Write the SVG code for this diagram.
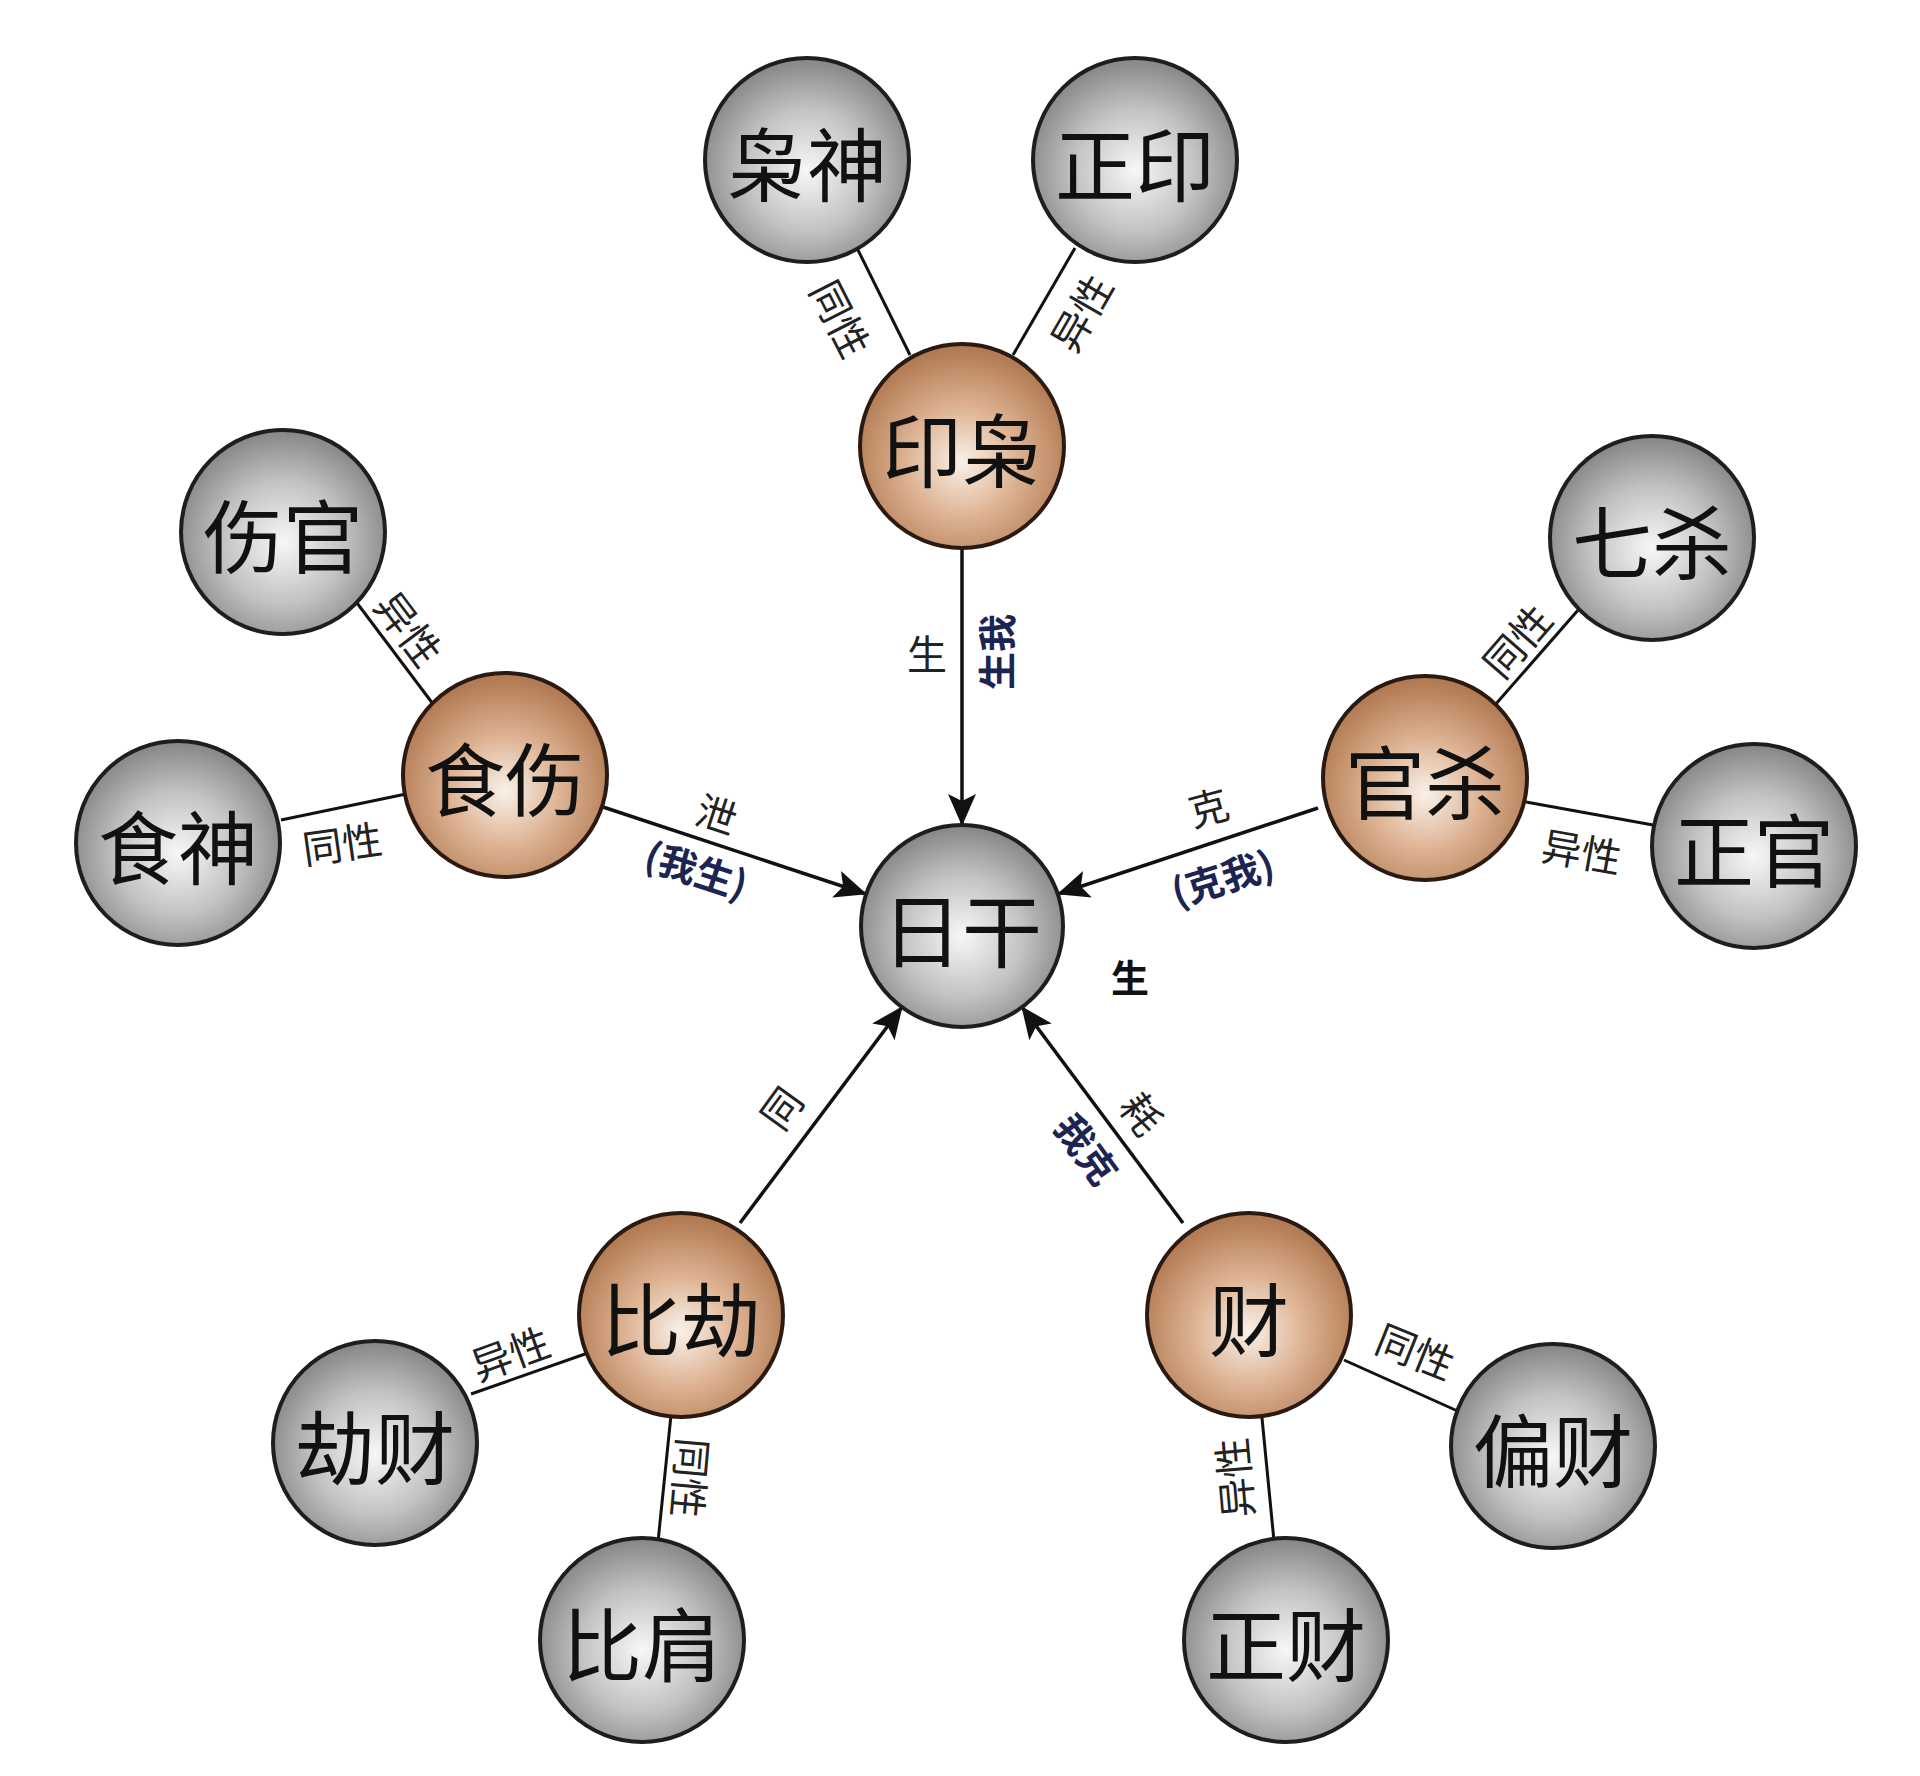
<svg xmlns="http://www.w3.org/2000/svg" width="1920" height="1776" viewBox="0 0 1920 1776">
<defs>
<radialGradient id="gGrey" cx="50%" cy="55%" r="55%">
<stop offset="0" stop-color="#f7f7f7"/>
<stop offset="0.55" stop-color="#c2c2c2"/>
<stop offset="1" stop-color="#858585"/>
</radialGradient>
<radialGradient id="gOrange" cx="50%" cy="58%" r="55%">
<stop offset="0" stop-color="#f9f1e8"/>
<stop offset="0.5" stop-color="#ddb292"/>
<stop offset="1" stop-color="#b27b53"/>
</radialGradient>
<marker id="arr" viewBox="0 0 32 30" refX="31" refY="15" markerWidth="32" markerHeight="30" markerUnits="userSpaceOnUse" orient="auto">
<path d="M0,1 L32,15 L0,29 L7,15 Z" fill="#111"/>
</marker>
</defs>
<style>
.grey{fill:url(#gGrey);stroke:#1e1e1e;stroke-width:4}
.orange{fill:url(#gOrange);stroke:#2a1a12;stroke-width:4}
.nt{font-family:"Noto Sans CJK SC","Noto Sans",sans-serif;font-size:80px;fill:#111;text-anchor:middle;dominant-baseline:central}
.link{stroke:#111;stroke-width:3;fill:none}
.main{stroke:#111;stroke-width:3.5;fill:none;marker-end:url(#arr)}
.lb{font-family:"Noto Sans CJK SC","Noto Sans",sans-serif;font-size:40px;fill:#222;text-anchor:middle;dominant-baseline:central}
.lbb{font-family:"Noto Sans CJK SC","Noto Sans",sans-serif;font-size:38px;fill:#1c2452;text-anchor:middle;dominant-baseline:central;font-weight:bold}
</style>
<rect width="1920" height="1776" fill="#ffffff"/>
<g id="connectors">
<line class="main" x1="962" y1="548" x2="962" y2="825"/>
<line class="main" x1="603" y1="807" x2="866" y2="894"/>
<line class="main" x1="1318" y1="808" x2="1058" y2="894"/>
<line class="main" x1="740" y1="1223" x2="902" y2="1007"/>
<line class="main" x1="1183" y1="1223" x2="1022" y2="1007"/>
<line class="link" x1="857" y1="248" x2="910" y2="355"/>
<line class="link" x1="1075" y1="248" x2="1013" y2="355"/>
<line class="link" x1="357" y1="603" x2="433" y2="704"/>
<line class="link" x1="281" y1="820" x2="406" y2="794"/>
<line class="link" x1="1579" y1="609" x2="1495" y2="705"/>
<line class="link" x1="1526" y1="802" x2="1653" y2="825"/>
<line class="link" x1="471" y1="1394" x2="585" y2="1354"/>
<line class="link" x1="671" y1="1415" x2="658" y2="1542"/>
<line class="link" x1="1344" y1="1360" x2="1462" y2="1413"/>
<line class="link" x1="1262" y1="1418" x2="1274" y2="1541"/>
</g>
<g id="labels">
<text class="lb" transform="translate(842,318) rotate(63)">同性</text>
<text class="lb" transform="translate(1080,312) rotate(-60)">异性</text>
<text class="lb" transform="translate(927,652)">生</text>
<text class="lbb" transform="translate(994,652) rotate(-90)">生我</text>
<text class="lb" transform="translate(717,813) rotate(18)">泄</text>
<text class="lbb" transform="translate(697,868) rotate(18)">(我生)</text>
<text class="lb" transform="translate(1208,806) rotate(-15)">克</text>
<text class="lbb" transform="translate(1222,876) rotate(-17)">(克我)</text>
<text class="lbb" style="fill:#111" transform="translate(1130,975)">生</text>
<text class="lb" transform="translate(780,1107) rotate(-54)">同</text>
<text class="lb" transform="translate(1143,1113) rotate(54)">耗</text>
<text class="lbb" transform="translate(1088,1148) rotate(54)">我克</text>
<text class="lb" transform="translate(410,628) rotate(53)">异性</text>
<text class="lb" transform="translate(342,842) rotate(-8)">同性</text>
<text class="lb" transform="translate(1516,640) rotate(-49)">同性</text>
<text class="lb" transform="translate(1582,850) rotate(10)">异性</text>
<text class="lb" transform="translate(510,1352) rotate(-20)">异性</text>
<text class="lb" transform="translate(692,1478) rotate(95)">同性</text>
<text class="lb" transform="translate(1416,1350) rotate(22)">同性</text>
<text class="lb" transform="translate(1233,1478) rotate(-95)">异性</text>
</g>
<g id="n-xiaoshen"><circle class="grey" cx="807" cy="160" r="102"/><text class="nt" x="807" y="160">枭神</text></g>
<g id="n-zhengyin"><circle class="grey" cx="1135" cy="160" r="102"/><text class="nt" x="1135" y="160">正印</text></g>
<g id="n-yinxiao"><circle class="orange" cx="962" cy="446" r="102"/><text class="nt" x="962" y="446">印枭</text></g>
<g id="n-shangguan"><circle class="grey" cx="283" cy="532" r="102"/><text class="nt" x="283" y="532">伤官</text></g>
<g id="n-shishang"><circle class="orange" cx="505" cy="775" r="102"/><text class="nt" x="505" y="775">食伤</text></g>
<g id="n-shishen"><circle class="grey" cx="178" cy="843" r="102"/><text class="nt" x="178" y="843">食神</text></g>
<g id="n-rigan"><circle class="grey" cx="962" cy="926" r="101"/><text class="nt" x="962" y="926">日干</text></g>
<g id="n-qisha"><circle class="grey" cx="1652" cy="538" r="102"/><text class="nt" x="1652" y="538">七杀</text></g>
<g id="n-guansha"><circle class="orange" cx="1425" cy="778" r="102"/><text class="nt" x="1425" y="778">官杀</text></g>
<g id="n-zhengguan"><circle class="grey" cx="1754" cy="846" r="102"/><text class="nt" x="1754" y="846">正官</text></g>
<g id="n-bijie"><circle class="orange" cx="681" cy="1315" r="102"/><text class="nt" x="681" y="1315">比劫</text></g>
<g id="n-cai"><circle class="orange" cx="1249" cy="1315" r="102"/><text class="nt" x="1249" y="1315">财</text></g>
<g id="n-jiecai"><circle class="grey" cx="375" cy="1443" r="102"/><text class="nt" x="375" y="1443">劫财</text></g>
<g id="n-bijian"><circle class="grey" cx="642" cy="1640" r="102"/><text class="nt" x="642" y="1640">比肩</text></g>
<g id="n-piancai"><circle class="grey" cx="1553" cy="1446" r="102"/><text class="nt" x="1553" y="1446">偏财</text></g>
<g id="n-zhengcai"><circle class="grey" cx="1286" cy="1640" r="102"/><text class="nt" x="1286" y="1640">正财</text></g>
</svg>
